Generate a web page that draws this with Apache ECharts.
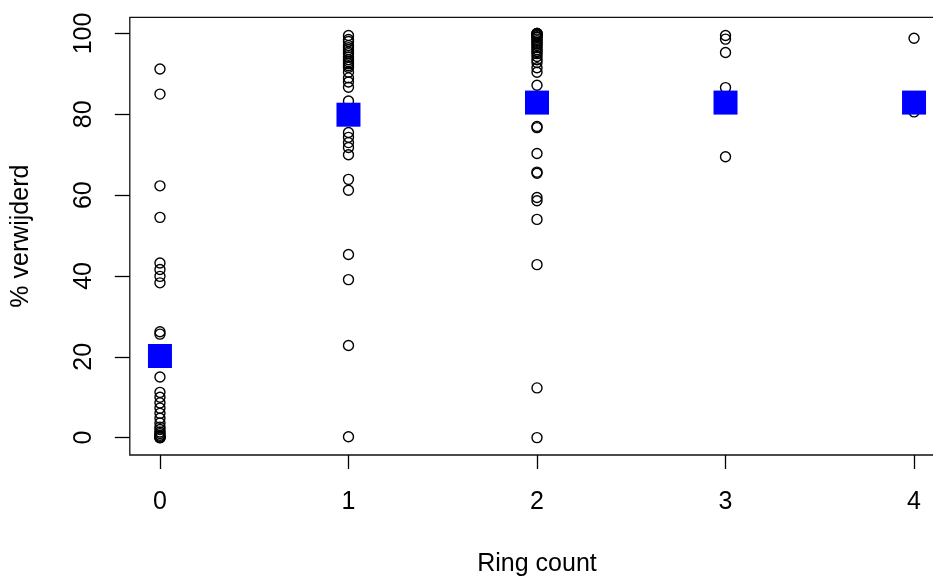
<!DOCTYPE html>
<html>
<head>
<meta charset="utf-8">
<script src="https://cdn.jsdelivr.net/npm/echarts@6/dist/echarts.min.js"></script>
<style>html,body{margin:0;padding:0;background:#fff;}#c{width:933px;height:576px;}</style>
</head>
<body>
<div id="c"></div>
<script>
const ringCounts = [0, 1, 2, 3, 4];
const tickLabelsX = [0, 1, 2, 3, 4];
const tickLabelsY = [0, 20, 40, 60, 80, 100];
const xTitle = "Ring count";
const yTitle = "% verwijderd";

const values0 = [91.2, 85, 62.3, 54.5, 43.2, 41.6, 39.9, 38.3, 26.2, 25.6, 15, 11.2, 10, 8.6, 7.3, 6, 4.8, 3.6, 2.6, 2, 1.4, 1, 0.6, 0.3, 0, 0, 0];
const values1 = [99.5, 98.5, 98, 97, 96.5, 96, 95.4, 95, 94.2, 93.5, 93, 92.5, 92, 91.6, 90.4, 89, 88, 86.7, 83.3, 75.5, 74.3, 73, 71.8, 70, 63.9, 61.2, 45.3, 39.1, 22.8, 0.2];
const values2 = [100, 100, 100, 99.8, 99.5, 99.2, 99, 98.6, 98.2, 97.8, 97.4, 97, 96.5, 96, 95.5, 95, 94.3, 93.5, 92.8, 91.5, 90.4, 87.2, 77, 76.7, 70.3, 65.7, 65.4, 59.4, 58.6, 54, 42.8, 12.3, 0];
const values3 = [99.5, 98.6, 95.3, 86.6, 69.5];
const values4 = [98.8, 80.6];
const groupValues = [values0, values1, values2, values3, values4];
const means = [20.2, 79.9, 82.9, 82.9, 82.9];

const points = [];
groupValues.forEach((vals, i) => vals.forEach(v => points.push([ringCounts[i], v])));
const meanPoints = ringCounts.map((r, i) => [r, means[i]]);

const font = "'Liberation Sans', Arial, sans-serif";
const chart = echarts.init(document.getElementById('c'), null, {renderer: 'canvas'});
chart.setOption({
  animation: false,
  backgroundColor: '#ffffff',
  grid: {
    left: 129.8, top: 17.3, width: 814.4, height: 437.7,
    show: true, borderColor: '#111', borderWidth: 1.3, backgroundColor: 'transparent',
    containLabel: false, outerBoundsMode: 'none'
  },
  xAxis: {
    type: 'value', min: -0.16, max: 4.16,
    name: xTitle, nameLocation: 'middle', nameGap: 97,
    nameTextStyle: {fontFamily: font, fontSize: 25, color: '#000'},
    axisLine: {show: false, onZero: false},
    axisTick: {show: true, inside: false, length: 14, customValues: tickLabelsX, lineStyle: {color: '#000', width: 1.3}},
    axisLabel: {show: true, margin: 35, customValues: tickLabelsX, fontFamily: font, fontSize: 25, color: '#000'},
    splitLine: {show: false}
  },
  yAxis: {
    type: 'value', min: -4.3, max: 104,
    name: yTitle, nameLocation: 'middle', nameGap: 96, nameRotate: 90,
    nameTextStyle: {fontFamily: font, fontSize: 25, color: '#000'},
    axisLine: {show: false, onZero: false},
    axisTick: {show: true, inside: false, length: 15, customValues: tickLabelsY, lineStyle: {color: '#000', width: 1.3}},
    axisLabel: {show: true, rotate: 90, margin: 33, customValues: tickLabelsY, fontFamily: font, fontSize: 25, color: '#000'},
    splitLine: {show: false}
  },
  series: [
    {
      type: 'scatter', data: points, symbol: 'circle', symbolSize: 10, z: 2,
      itemStyle: {color: 'rgba(0,0,0,0)', borderColor: '#000', borderWidth: 1.4, opacity: 1}
    },
    {
      type: 'scatter', data: meanPoints, symbol: 'rect', symbolSize: 24, z: 3,
      itemStyle: {color: '#0000ff', opacity: 1}
    }
  ]
});
</script>
</body>
</html>
